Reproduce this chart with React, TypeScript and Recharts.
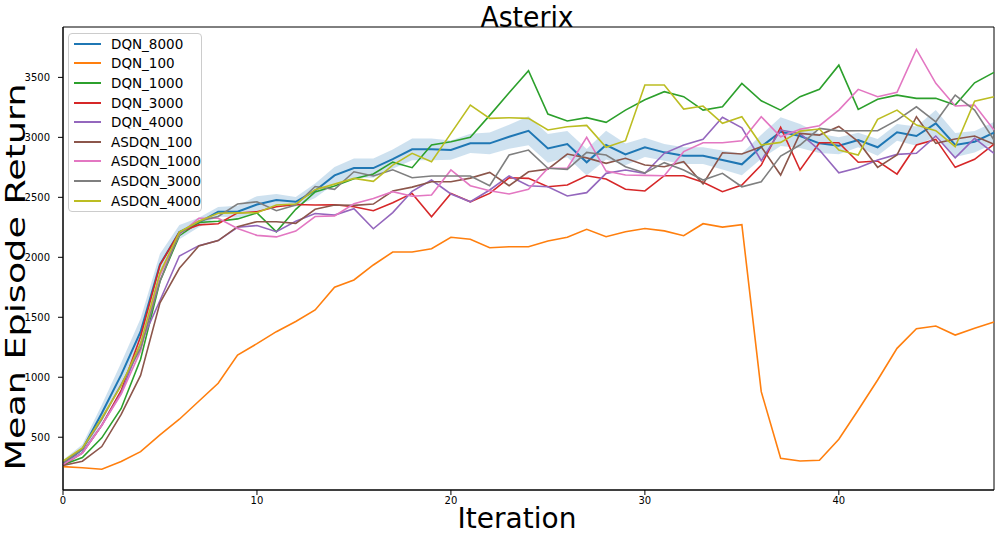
import {
  ComposedChart,
  Line,
  Area,
  XAxis,
  YAxis,
  ReferenceArea,
} from "recharts";

const iterations = Array.from({ length: 49 }, (_, i) => i);

const dqn8000 = [280, 400, 700, 1020, 1380, 1940, 2210, 2290, 2380, 2380, 2440, 2477, 2463, 2555, 2683, 2744, 2744, 2818, 2900, 2900, 2894, 2950, 2950, 3005, 3055, 2908, 2944, 2792, 2936, 2858, 2917, 2875, 2847, 2847, 2811, 2775, 2922, 3047, 3011, 2950, 2930, 2978, 2917, 3042, 3011, 3117, 2936, 2964, 3039];
const dqn8000Spread = [30, 40, 70, 100, 110, 90, 60, 40, 40, 50, 70, 50, 40, 60, 70, 80, 80, 80, 90, 90, 80, 80, 90, 100, 120, 120, 110, 110, 120, 90, 80, 70, 70, 70, 80, 90, 100, 120, 100, 80, 70, 60, 70, 70, 80, 110, 100, 90, 90];
const dqn100 = [255, 245, 233, 297, 380, 520, 650, 800, 950, 1185, 1280, 1380, 1465, 1561, 1750, 1811, 1936, 2044, 2044, 2072, 2167, 2150, 2080, 2088, 2088, 2136, 2167, 2233, 2172, 2213, 2240, 2220, 2180, 2280, 2252, 2272, 880, 325, 302, 308, 483, 727, 977, 1241, 1405, 1427, 1352, 1408, 1461];
const dqn1000 = [270, 330, 495, 740, 1150, 1800, 2180, 2290, 2300, 2320, 2370, 2213, 2400, 2545, 2595, 2655, 2694, 2793, 2747, 2936, 2964, 3000, 3183, 3372, 3555, 3194, 3136, 3164, 3125, 3227, 3314, 3381, 3339, 3227, 3255, 3450, 3305, 3227, 3339, 3400, 3602, 3233, 3317, 3352, 3325, 3325, 3269, 3455, 3542];
const dqn3000 = [270, 370, 600, 890, 1340, 1936, 2210, 2270, 2280, 2370, 2380, 2422, 2440, 2436, 2438, 2422, 2388, 2455, 2533, 2338, 2533, 2463, 2533, 2663, 2658, 2588, 2603, 2680, 2653, 2567, 2553, 2680, 2680, 2625, 2547, 2603, 2769, 3083, 2728, 2955, 2955, 2792, 2803, 2694, 2936, 2983, 2750, 2817, 2944];
const dqn4000 = [275, 370, 600, 870, 1280, 1640, 2011, 2097, 2139, 2250, 2265, 2213, 2300, 2365, 2352, 2405, 2238, 2373, 2550, 2644, 2528, 2463, 2561, 2678, 2597, 2588, 2511, 2539, 2700, 2728, 2700, 2867, 2936, 2983, 3167, 3080, 2805, 3061, 3033, 2894, 2705, 2747, 2811, 2858, 2867, 3011, 2830, 2992, 2867];
const asdqn100 = [265, 300, 422, 690, 1015, 1620, 1908, 2094, 2139, 2255, 2297, 2297, 2283, 2400, 2436, 2433, 2444, 2553, 2585, 2630, 2630, 2660, 2708, 2597, 2713, 2735, 2861, 2829, 2783, 2825, 2769, 2755, 2797, 2611, 2872, 2861, 2922, 2686, 3033, 3019, 3091, 2964, 2750, 2853, 3172, 2950, 2986, 3011, 2942];
const asdqn1000 = [275, 367, 600, 860, 1220, 1850, 2190, 2325, 2325, 2240, 2183, 2170, 2219, 2340, 2345, 2446, 2491, 2547, 2509, 2519, 2728, 2597, 2555, 2528, 2567, 2742, 2742, 3000, 2719, 2686, 2683, 2680, 2881, 2955, 2955, 2972, 3172, 3005, 3067, 3097, 3227, 3400, 3339, 3375, 3733, 3450, 3261, 3269, 3061];
const asdqn3000 = [285, 400, 650, 940, 1240, 1800, 2200, 2300, 2340, 2444, 2463, 2388, 2436, 2590, 2567, 2713, 2678, 2730, 2663, 2678, 2678, 2678, 2597, 2853, 2894, 2742, 2733, 2875, 2853, 2755, 2703, 2789, 2728, 2644, 2700, 2588, 2630, 2844, 2936, 3075, 3054, 3055, 3055, 3144, 3255, 3130, 3352, 3227, 2978];
const asdqn4000 = [300, 410, 660, 930, 1280, 1870, 2210, 2300, 2367, 2370, 2372, 2436, 2444, 2564, 2610, 2658, 2633, 2769, 2867, 2797, 3033, 3269, 3158, 3164, 3158, 3061, 3088, 3100, 2917, 2972, 3436, 3436, 3236, 3261, 3117, 3172, 2936, 2958, 3052, 3069, 2894, 2853, 3150, 3227, 3102, 3055, 2922, 3302, 3339];

const xTicks = [0, 10, 20, 30, 40];
const yTicks = [500, 1000, 1500, 2000, 2500, 3000, 3500];

const series = [
  { key: "DQN_8000", values: dqn8000, color: "#1f77b4" },
  { key: "DQN_100", values: dqn100, color: "#ff7f0e" },
  { key: "DQN_1000", values: dqn1000, color: "#2ca02c" },
  { key: "DQN_3000", values: dqn3000, color: "#d62728" },
  { key: "DQN_4000", values: dqn4000, color: "#9467bd" },
  { key: "ASDQN_100", values: asdqn100, color: "#8c564b" },
  { key: "ASDQN_1000", values: asdqn1000, color: "#e377c2" },
  { key: "ASDQN_3000", values: asdqn3000, color: "#7f7f7f" },
  { key: "ASDQN_4000", values: asdqn4000, color: "#bcbd22" },
];

const data = iterations.map((it, i) => {
  const row: Record<string, any> = {
    iteration: it,
    band: [dqn8000[i] - dqn8000Spread[i], dqn8000[i] + dqn8000Spread[i]],
  };
  series.forEach((s) => {
    row[s.key] = s.values[i];
  });
  return row;
});

const font = "'DejaVu Sans', sans-serif";

export default function App() {
  return (
    <div
      style={{
        position: "absolute",
        left: 0,
        top: 0,
        width: 1000,
        height: 535,
        background: "#fff",
        fontFamily: font,
      }}
    >
      <ComposedChart
        width={1000}
        height={535}
        data={data}
        margin={{ top: 27, right: 6, bottom: 0, left: 0 }}
      >
        <XAxis
          dataKey="iteration"
          type="number"
          domain={[0, 48]}
          ticks={xTicks}
          height={45}
          tickSize={5}
          tickMargin={2}
          stroke="#000"
          tick={{ fill: "#000", fontSize: 10, fontFamily: font }}
        />
        <YAxis
          type="number"
          domain={[60, 3920]}
          ticks={yTicks}
          width={63}
          tickSize={5}
          tickMargin={8}
          stroke="#000"
          tick={{ fill: "#000", fontSize: 10, fontFamily: font }}
        />
        <Area
          dataKey="band"
          type="linear"
          stroke="none"
          fill="#1f77b4"
          fillOpacity={0.22}
          isAnimationActive={false}
        />
        {series.map((s) => (
          <Line
            key={s.key}
            dataKey={s.key}
            type="linear"
            stroke={s.color}
            strokeWidth={s.key === "DQN_8000" ? 2 : 1.6}
            dot={false}
            activeDot={false}
            isAnimationActive={false}
          />
        ))}
        <ReferenceArea
          x1={0}
          x2={48}
          y1={60}
          y2={3920}
          fill="none"
          stroke="#000"
          strokeWidth={1}
        />
      </ComposedChart>

      <div
        style={{
          position: "absolute",
          left: 527,
          top: 0,
          transform: "translateX(-50%) scaleX(0.92)",
          fontSize: 29,
          whiteSpace: "nowrap",
        }}
      >
        Asterix
      </div>
      <div
        style={{
          position: "absolute",
          left: 517,
          top: 502,
          transform: "translateX(-50%)",
          fontSize: 28,
          whiteSpace: "nowrap",
        }}
      >
        Iteration
      </div>
      <div
        style={{
          position: "absolute",
          left: 16,
          top: 277,
          transform: "translate(-50%, -50%) rotate(-90deg) scaleY(0.75)",
          fontSize: 36.5,
          lineHeight: 1,
          whiteSpace: "nowrap",
        }}
      >
        Mean Episode Return
      </div>

      <div
        style={{
          position: "absolute",
          left: 68,
          top: 33,
          width: 134,
          height: 179,
          boxSizing: "border-box",
          border: "1px solid #cccccc",
          borderRadius: 4,
          background: "rgba(255,255,255,0.8)",
        }}
      >
        {series.map((s) => (
          <div
            key={s.key}
            style={{ display: "flex", alignItems: "center", height: 19.6 }}
          >
            <div
              style={{
                marginLeft: 5,
                width: 27,
                height: 2,
                background: s.color,
              }}
            />
            <span style={{ marginLeft: 10, fontSize: 13.5, color: "#000" }}>
              {s.key}
            </span>
          </div>
        ))}
      </div>
    </div>
  );
}
